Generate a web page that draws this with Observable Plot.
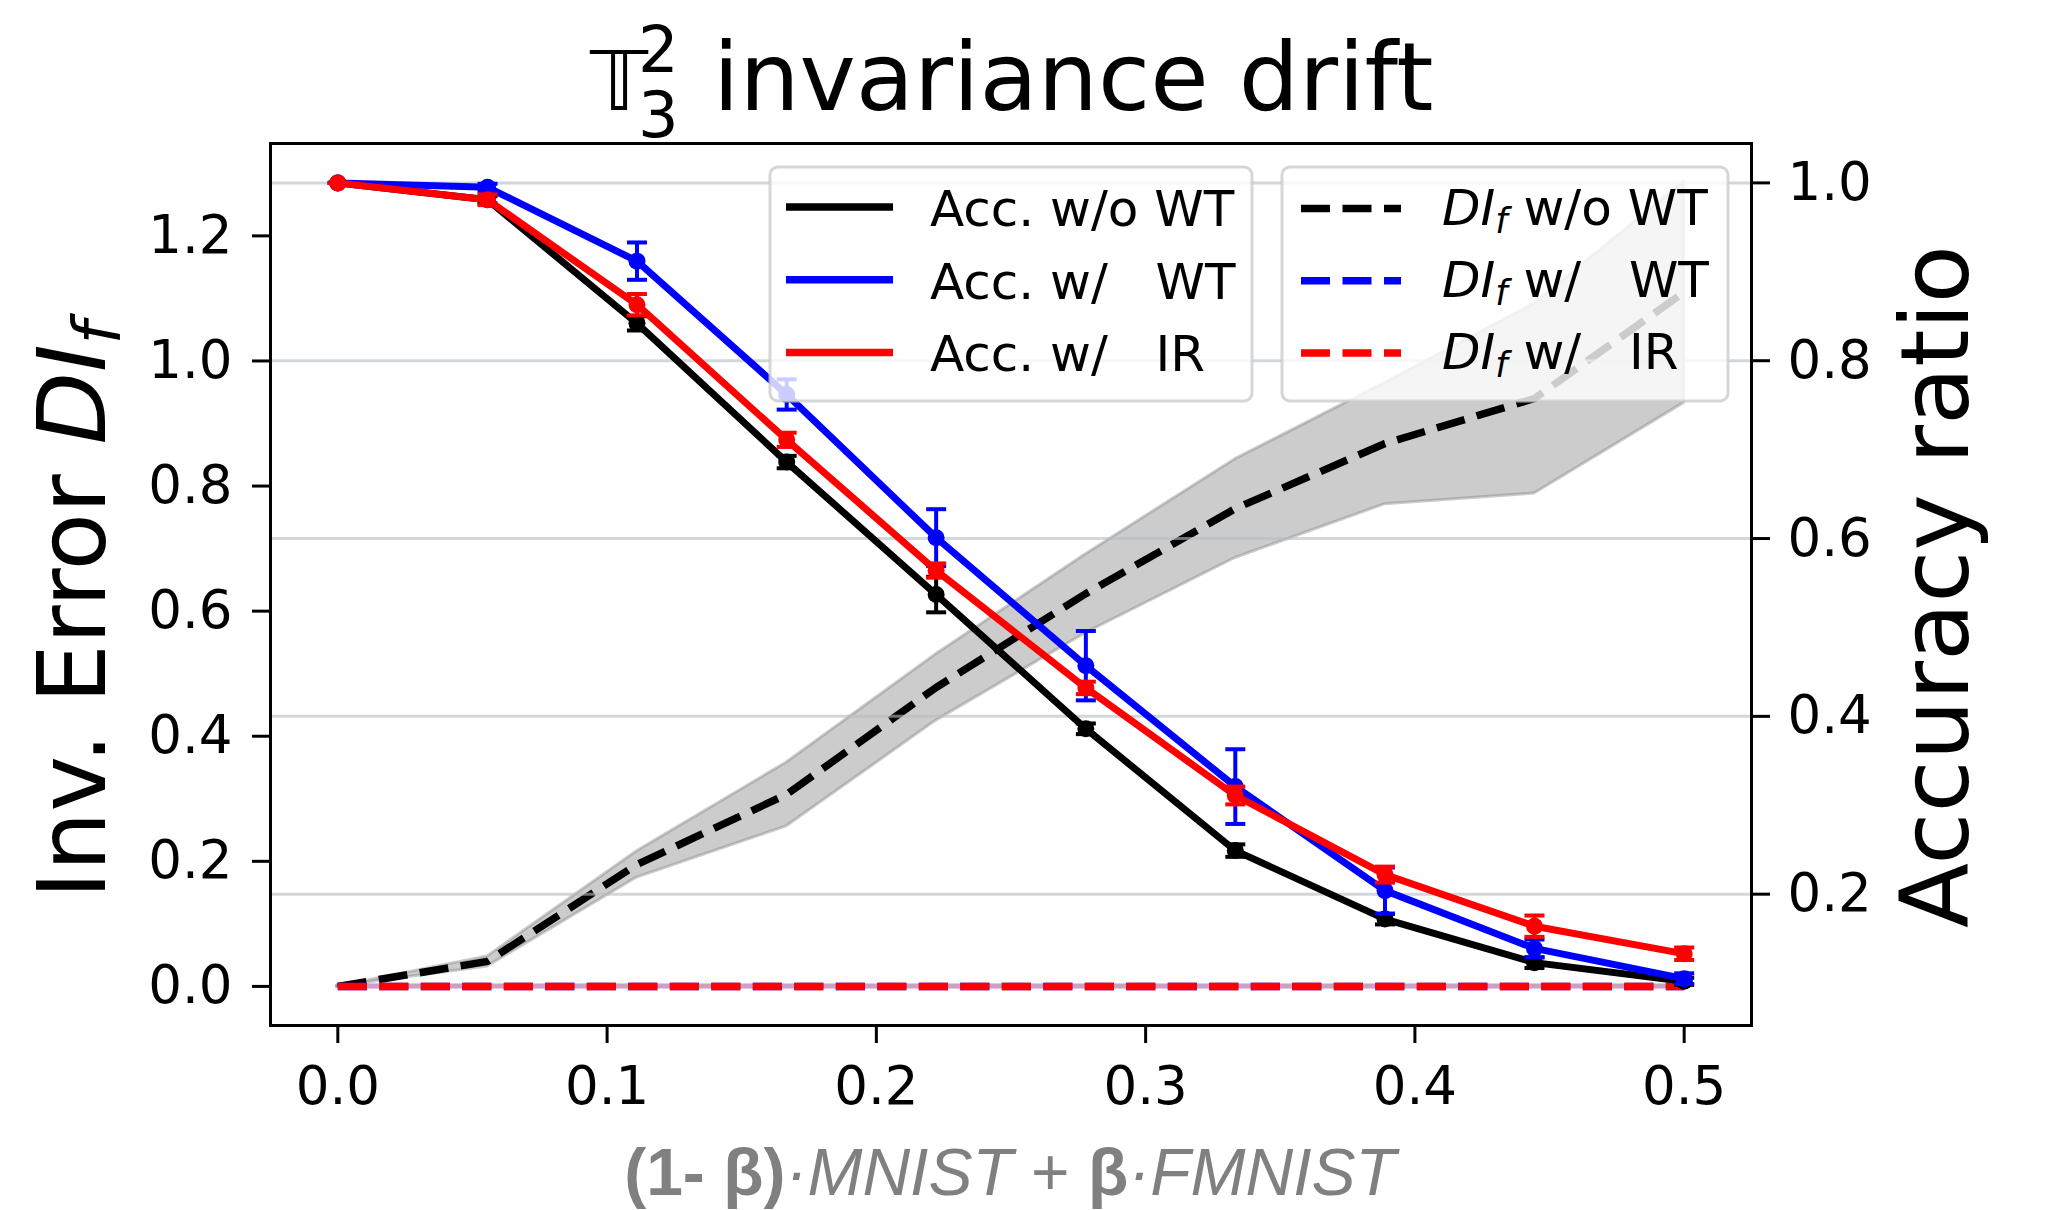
<!DOCTYPE html>
<html><head><meta charset="utf-8">
<script src="https://cdn.jsdelivr.net/npm/d3@7"></script>
<script src="https://cdn.jsdelivr.net/npm/@observablehq/plot@0.6"></script>
<style>
html,body{margin:0;padding:0;background:#fff;}
#chart svg{display:block;}
</style></head><body><div id="chart"></div>
<script>
// ---------- data ----------
const betas = [0, 0.0556, 0.1111, 0.1667, 0.2222, 0.2778, 0.3333, 0.3889, 0.4444, 0.5];

const accNoWT    = [1.000, 0.981, 0.842, 0.686, 0.537, 0.386, 0.249, 0.172, 0.123, 0.102];
const accNoWTErr = [0.000, 0.004, 0.008, 0.007, 0.020, 0.006, 0.007, 0.006, 0.006, 0.004];
const accWT      = [1.000, 0.995, 0.912, 0.762, 0.601, 0.457, 0.321, 0.204, 0.139, 0.105];
const accWTErr   = [0.000, 0.004, 0.021, 0.017, 0.032, 0.039, 0.042, 0.026, 0.010, 0.006];
const accIR      = [1.000, 0.981, 0.863, 0.711, 0.564, 0.432, 0.311, 0.222, 0.164, 0.133];
const accIRErr   = [0.000, 0.006, 0.012, 0.008, 0.008, 0.007, 0.010, 0.009, 0.012, 0.007];

const diNoWT    = [0, 0.040, 0.195, 0.307, 0.478, 0.628, 0.764, 0.868, 0.940, 1.110];
const diNoWTStd = [0, 0.008, 0.021, 0.051, 0.053, 0.063, 0.079, 0.097, 0.152, 0.177];
const diWT      = [0, 0, 0, 0, 0, 0, 0, 0, 0, 0];
const diWTStd   = [0, 0, 0, 0, 0, 0, 0, 0, 0, 0];
const diIR      = [0, 0, 0, 0, 0, 0, 0, 0, 0, 0];
const diIRStd   = [0, 0, 0, 0, 0, 0, 0, 0, 0, 0];

const xTicks = [0, 0.1, 0.2, 0.3, 0.4, 0.5];
const leftTicks = [0, 0.2, 0.4, 0.6, 0.8, 1.0, 1.2];
const rightTicks = [0.2, 0.4, 0.6, 0.8, 1.0];

const seriesColors = ["black", "blue", "red"];
const accLegendLabels = ["Acc. w/o WT", "Acc. w/   WT", "Acc. w/   IR"];
const diLegendTail = [" w/o WT", " w/   WT", " w/   IR"];

const titleSymbol = "\u{1D54B}";
const titleSup = "2";
const titleSub = "3";
const titleText = "invariance drift";
const yLeftLabel = ["Inv. Error ", "DI", "f"];
const yRightLabel = "Accuracy ratio";
const xLabelParts = [["(1- β)", "bold", "normal"], ["·MNIST", "normal", "italic"], [" + ", "normal", "normal"], ["β", "bold", "normal"], ["·FMNIST", "normal", "italic"]];

// ---------- scales ----------
const W = 2051, H = 1210;
const xDomain = [-0.025, 0.525];
const yLeftDomain = [-0.0625, 1.3477];
const yRightDomain = [0.0523, 1.0443];
const toLeft = a => yLeftDomain[0] + (a - yRightDomain[0]) / (yRightDomain[1] - yRightDomain[0]) * (yLeftDomain[1] - yLeftDomain[0]);
const fromLeft = l => yRightDomain[0] + (l - yLeftDomain[0]) / (yLeftDomain[1] - yLeftDomain[0]) * (yRightDomain[1] - yRightDomain[0]);

const accSeries = [accNoWT, accWT, accIR];
const accErrSeries = [accNoWTErr, accWTErr, accIRErr];
const diSeries = [diNoWT, diWT, diIR];
const diStdSeries = [diNoWTStd, diWTStd, diIRStd];

const capSymbol = { draw(ctx) { ctx.moveTo(-10, 0); ctx.lineTo(10, 0); } };
const DASH = "29 12.5";

const marks = [];
// bands (fill_between)
diSeries.forEach((vals, s) => {
  const rows = vals.map((v, i) => ({x: betas[i], y1: v - diStdSeries[s][i], y2: v + diStdSeries[s][i]}));
  if (s === 0) {
    marks.push(Plot.areaY(rows, {x: "x", y1: "y1", y2: "y2", fill: "gray", fillOpacity: 0.4, stroke: "gray", strokeOpacity: 0.4, strokeWidth: 3}));
  } else {
    marks.push(Plot.areaY(rows, {x: "x", y1: "y1", y2: "y2", fill: "none", stroke: seriesColors[s], strokeOpacity: 0.22, strokeWidth: 5}));
  }
});
// dashed DI lines
diSeries.forEach((vals, s) => {
  marks.push(Plot.line(vals.map((v, i) => ({x: betas[i], y: v})), {x: "x", y: "y", stroke: seriesColors[s], strokeWidth: 7.5, strokeDasharray: DASH, strokeLinecap: "butt", strokeLinejoin: "round"}));
});
// grid of right axis
marks.push(Plot.ruleY(rightTicks.map(toLeft), {stroke: "#b0bcc6", strokeOpacity: 0.6, strokeWidth: 3}));
// accuracy lines with error bars
accSeries.forEach((vals, s) => {
  const c = seriesColors[s];
  const rows = vals.map((v, i) => ({x: betas[i], y: toLeft(v), lo: toLeft(v - accErrSeries[s][i]), hi: toLeft(v + accErrSeries[s][i])}));
  marks.push(Plot.line(rows, {x: "x", y: "y", stroke: c, strokeWidth: 7, strokeLinecap: "square", strokeLinejoin: "round"}));
  marks.push(Plot.ruleX(rows, {x: "x", y1: "lo", y2: "hi", stroke: c, strokeWidth: 4}));
  marks.push(Plot.dot(rows, {x: "x", y: "lo", symbol: capSymbol, fill: "none", stroke: c, strokeWidth: 4}));
  marks.push(Plot.dot(rows, {x: "x", y: "hi", symbol: capSymbol, fill: "none", stroke: c, strokeWidth: 4}));
  marks.push(Plot.dot(rows, {x: "x", y: "y", r: 8.5, fill: c, stroke: "none"}));
});
// axes + frame
marks.push(
  Plot.axisX(xTicks, {tickSize: 18, tickPadding: 23, tickFormat: d3.format(".1f"), fontSize: 53, strokeWidth: 3, label: null}),
  Plot.axisY(leftTicks, {anchor: "left", tickSize: 18, tickPadding: 20, tickFormat: d3.format(".1f"), fontSize: 53, strokeWidth: 3, label: null}),
  Plot.axisY(rightTicks.map(toLeft), {anchor: "right", tickSize: 18, tickPadding: 18, tickFormat: d => d3.format(".1f")(fromLeft(d)), fontSize: 53, strokeWidth: 3, label: null}),
  Plot.frame({stroke: "black", strokeWidth: 3})
);

const chart = Plot.plot({
  width: W, height: H,
  marginLeft: 270, marginRight: 300, marginTop: 143, marginBottom: 185,
  style: {fontFamily: "DejaVu Sans, sans-serif", background: "white", color: "black", overflow: "visible"},
  x: {domain: xDomain},
  y: {domain: yLeftDomain},
  marks
});
document.getElementById("chart").appendChild(chart);

// ---------- text & legends ----------
const svg = d3.select(chart);
const FONT = "DejaVu Sans, sans-serif";

// title (one text element, symbol with stacked super/subscript)
const tt = svg.append("text").attr("font-family", FONT).attr("fill", "black").attr("text-anchor", "start")
  .attr("x", 590).attr("y", 110).attr("font-size", 95);
tt.append("tspan").attr("font-size", 82).attr("font-style", "italic").text(titleSymbol);
tt.append("tspan").attr("x", 638).attr("y", 72).attr("font-size", 64).text(titleSup);
tt.append("tspan").attr("x", 638).attr("y", 137).attr("font-size", 64).text(titleSub);
tt.append("tspan").attr("x", 713).attr("y", 110).text(titleText);

// left y label
const yl = svg.append("text").attr("transform", "translate(105,610) rotate(-90)")
  .attr("text-anchor", "middle").attr("font-size", 94).attr("font-family", FONT).attr("fill", "black");
yl.append("tspan").text(yLeftLabel[0]);
yl.append("tspan").attr("font-style", "italic").text(yLeftLabel[1]);
yl.append("tspan").attr("font-style", "italic").attr("font-size", 66).attr("dy", 15).text(yLeftLabel[2]);

// right y label
svg.append("text").attr("transform", "translate(1968,586.5) rotate(-90)")
  .attr("text-anchor", "middle").attr("font-size", 95).attr("font-family", FONT).attr("fill", "black").text(yRightLabel);

// x label
const xl = svg.append("text").attr("x", 1010).attr("y", 1195).attr("text-anchor", "middle")
  .attr("font-family", "Liberation Sans, Arial, sans-serif").attr("font-size", 66).attr("fill", "#808080")
  .attr("xml:space", "preserve").style("white-space", "pre");
xLabelParts.forEach(([t, w, st]) => xl.append("tspan").attr("font-weight", w).attr("font-style", st).text(t));

// legends
function legendBox(x, y, w, h) {
  svg.append("rect").attr("x", x).attr("y", y).attr("width", w).attr("height", h).attr("rx", 8)
    .attr("fill", "white").attr("fill-opacity", 0.8).attr("stroke", "#cccccc").attr("stroke-opacity", 0.8).attr("stroke-width", 3);
}
legendBox(770, 167, 482, 234);
legendBox(1282, 167, 446, 234);
const lg = svg.append("g").attr("font-family", FONT).attr("font-size", 50).attr("fill", "black").attr("text-anchor", "start");
seriesColors.forEach((c, i) => {
  const ly = 207 + 72.7 * i;
  lg.append("line").attr("x1", 786).attr("x2", 893).attr("y1", ly).attr("y2", ly).attr("stroke", c).attr("stroke-width", 7.5).attr("stroke-linecap", "butt");
  lg.append("text").attr("x", 930).attr("y", ly + 19).attr("xml:space", "preserve").style("white-space", "pre").text(accLegendLabels[i]);
  const ly2 = 208.5 + 72.2 * i;
  lg.append("line").attr("x1", 1301).attr("x2", 1401).attr("y1", ly2).attr("y2", ly2).attr("stroke", c).attr("stroke-width", 7.5).attr("stroke-dasharray", DASH).attr("stroke-linecap", "butt");
  const t = lg.append("text").attr("x", 1442).attr("y", ly2 + 16).attr("xml:space", "preserve").style("white-space", "pre");
  t.append("tspan").attr("font-style", "italic").text("DI");
  t.append("tspan").attr("font-style", "italic").attr("font-size", 35).attr("dy", 8).text("f");
  t.append("tspan").attr("dy", -8).text(diLegendTail[i]);
});
</script></body></html>
